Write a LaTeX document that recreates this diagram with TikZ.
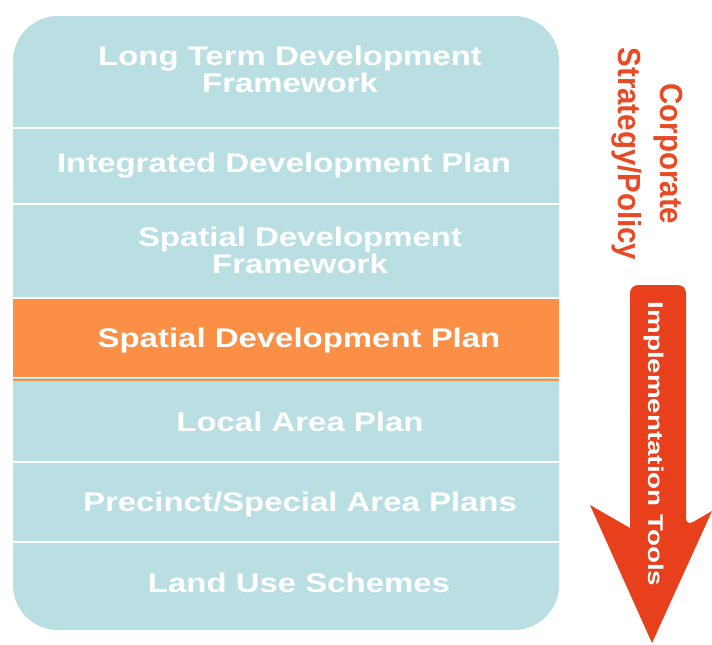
\documentclass[tikz,border=0pt]{standalone}
\usepackage{fontspec}
\newfontfamily\labfont{Liberation Sans}[FakeStretch=1.22]
\newfontfamily\sidefont{Liberation Sans}[FakeStretch=0.92]
\newfontfamily\arrowfont{Liberation Sans}[FakeStretch=1.3]
\definecolor{stackblue}{HTML}{BADFE3}
\definecolor{bandorange}{HTML}{FA8F45}
\definecolor{arrowred}{HTML}{E8401C}
\definecolor{sidered}{HTML}{E84A25}
\begin{document}
\begin{tikzpicture}[x=0.75pt,y=-0.75pt,
  level/.style={text=white,font=\labfont\bfseries\fontsize{20.25pt}{20pt}\selectfont,
    align=center,inner sep=0pt,anchor=base},
  sidetext/.style={text=sidered,font=\sidefont\bfseries\fontsize{24pt}{24pt}\selectfont,
    rotate=-90,inner sep=0pt,anchor=base},
  divider/.style={white,line width=1.5pt}]
\useasboundingbox (0,0) rectangle (712,644);
% rounded stack of planning levels
\fill[stackblue,rounded corners=33.75pt] (13,16) rectangle (559,630);
% highlighted level
\fill[bandorange] (13,299) rectangle (559,377);
\fill[bandorange] (13,378.5) rectangle (559,380.5);
% separators between levels
\foreach \yy in {128,204,297.5,462,542}
  \draw[divider] (13,\yy) -- (559,\yy);
\draw[white,line width=0.9pt] (13,377.6) -- (559,377.6);
% level labels (two-line labels sit on the baseline of their last line)
\node[level] (ltdf) at (290,92) {Long Term Development\\Framework};
\node[level] (idp) at (284,172) {Integrated Development Plan};
\node[level] (sdf) at (300,273) {Spatial Development\\Framework};
\node[level] (sdp) at (299,347) {Spatial Development Plan};
\node[level] (lap) at (300,431) {Local Area Plan};
\node[level] (psap) at (300,511) {Precinct/Special Area Plans};
\node[level] (lus) at (299,592) {Land Use Schemes};
% side heading
\node[sidetext] (corp) at (660,154) {Corporate};
\node[sidetext] (strat) at (618,154) {Strategy/Policy};
% downward implementation arrow
\fill[arrowred,rounded corners=6pt] (630,528) -- (630,285) -- (686,285) -- (686,526)
  [sharp corners] -- (712,511) -- (652,643) -- (590,505) -- cycle;
\node[text=white,font=\arrowfont\bfseries\fontsize{16pt}{16pt}\selectfont,
  rotate=-90,inner sep=0pt,anchor=base] (impl) at (648,444) {Implementation Tools};
\end{tikzpicture}
\end{document}
